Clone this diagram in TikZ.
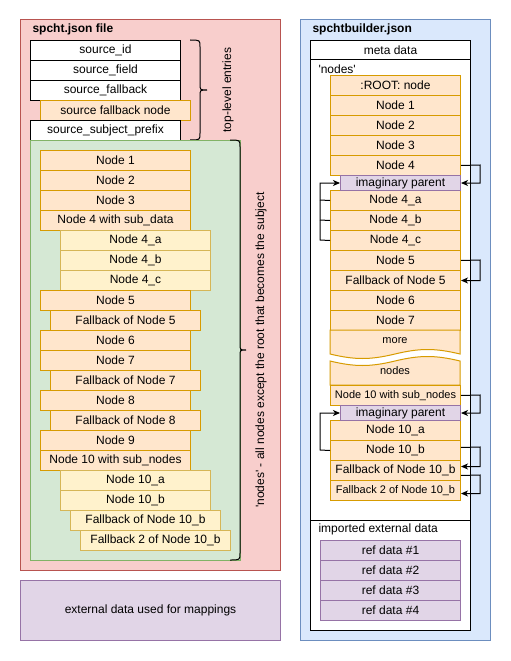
\documentclass[tikz,border=0pt]{standalone}
\usepackage{fontspec}
\setmainfont{Liberation Sans}
\usetikzlibrary{arrows.meta}
\definecolor{redF}{HTML}{F8CECC}\definecolor{redS}{HTML}{B85450}
\definecolor{grnF}{HTML}{D5E8D4}\definecolor{grnS}{HTML}{82B366}
\definecolor{bluF}{HTML}{DAE8FC}\definecolor{bluS}{HTML}{6C8EBF}
\definecolor{orF}{HTML}{FFE6CC}\definecolor{orS}{HTML}{D79B00}
\definecolor{yeF}{HTML}{FFF2CC}\definecolor{yeS}{HTML}{D6B656}
\definecolor{puF}{HTML}{E1D5E7}\definecolor{puS}{HTML}{9673A6}
\newcommand\twelvepx{\fontsize{12}{14}\selectfont}
\newcommand\elevenpx{\fontsize{11}{13}\selectfont}
\tikzset{
  basebox/.style={anchor=north west, minimum height=20pt, inner sep=0pt, font=\twelvepx, text=black},
  wbox/.style={basebox, draw=black, fill=white, minimum width=#1},
  wbox/.default=150pt,
  obox/.style={basebox, draw=orS, fill=orF, minimum width=#1},
  obox/.default=150pt,
  ybox/.style={basebox, draw=yeS, fill=yeF, minimum width=#1},
  ybox/.default=150pt,
  pbox/.style={basebox, draw=puS, fill=puF, minimum width=#1},
  pbox/.default=150pt,
  lbl/.style={inner sep=0pt, font=\twelvepx, text=black},
  ttl/.style={inner sep=0pt, anchor=west, font=\twelvepx\bfseries, text=black},
  conn/.style={draw=black, line width=1pt, -{Stealth[length=7pt,width=6pt,inset=2pt]}},
  plain/.style={draw=black, line width=1pt},
}
\begin{document}
\begin{tikzpicture}[x=1pt,y=-1pt,line width=1pt]
\useasboundingbox[fill=white] (0,0) rectangle (511,661);

% ---------- left container ----------
\draw[draw=redS, fill=redF] (20,20) rectangle (280,570);
\node[ttl] (t1) at (32,29) {spcht.json file};

\node[wbox] (sid) at (30,40) {source\_id};
\node[wbox] (sfield) at (30,60) {source\_field};
\node[wbox] (sfb) at (30,80) {source\_fallback};
\node[obox] (sfbn) at (40,100) {source fallback node};
\node[wbox] (ssp) at (30,120) {source\_subject\_prefix};

\draw[plain] (190,40) .. controls (200,40) .. (200,47) -- (200,84)
  .. controls (200,90) .. (207,90) .. controls (200,90) .. (200,96)
  -- (200,133) .. controls (200,140) .. (190,140);
\node[lbl, rotate=90] (tle) at (228,90) {top-level entries};

\draw[draw=grnS, fill=grnF] (30,140) rectangle (240,560);

\node[obox] (l1) at (40,150) {Node 1};
\node[obox] (l2) at (40,170) {Node 2};
\node[obox] (l3) at (40,190) {Node 3};
\node[obox] (l4) at (40,210) {Node 4 with sub\_data};
\node[ybox] (l4a) at (60,230) {Node 4\_a};
\node[ybox] (l4b) at (60,250) {Node 4\_b};
\node[ybox] (l4c) at (60,270) {Node 4\_c};
\node[obox] (l5) at (40,290) {Node 5};
\node[obox] (l5f) at (50,310) {Fallback of Node 5};
\node[obox] (l6) at (40,330) {Node 6};
\node[obox] (l7) at (40,350) {Node 7};
\node[obox] (l7f) at (50,370) {Fallback of Node 7};
\node[obox] (l8) at (40,390) {Node 8};
\node[obox] (l8f) at (50,410) {Fallback of Node 8};
\node[obox] (l9) at (40,430) {Node 9};
\node[obox] (l10) at (40,450) {Node 10 with sub\_nodes};
\node[ybox] (l10a) at (60,470) {Node 10\_a};
\node[ybox] (l10b) at (60,490) {Node 10\_b};
\node[ybox] (l10bf) at (70,510) {Fallback of Node 10\_b};
\node[ybox] (l10bff) at (80,530) {Fallback 2 of Node 10\_b};

\draw[plain] (230,140) .. controls (240,140) .. (240,147) -- (240,344)
  .. controls (240,350) .. (246,350) .. controls (240,350) .. (240,356)
  -- (240,553) .. controls (240,560) .. (230,560);
\node[lbl, rotate=90] (nlbl) at (261,350) {\textquotesingle nodes\textquotesingle\ - all nodes except the root that becomes the subject};

% ---------- external data ----------
\node[pbox=260pt, minimum height=60pt] (ext) at (20,580) {external data used for mappings};

% ---------- right container ----------
\draw[draw=bluS, fill=bluF] (300,20) rectangle (490,640);
\node[ttl] (t2) at (312,29) {spchtbuilder.json};

\node[wbox=160pt] (meta) at (310,40) {meta data};
\draw[draw=black, fill=white] (310,60) rectangle (470,520);
\node[lbl, anchor=west] (nodeslbl) at (318,69) {\textquotesingle nodes\textquotesingle};
\draw[draw=black, fill=white] (310,520) rectangle (470,630);
\node[lbl, anchor=west] (implbl) at (318,529) {imported external data};

\node[pbox=140pt] (r1) at (320,540) {ref data \#1};
\node[pbox=140pt] (r2) at (320,560) {ref data \#2};
\node[pbox=140pt] (r3) at (320,580) {ref data \#3};
\node[pbox=140pt] (r4) at (320,600) {ref data \#4};

\node[obox=130pt] (root) at (330,75) {:ROOT: node};
\node[obox=130pt] (b1) at (330,95) {Node 1};
\node[obox=130pt] (b2) at (330,115) {Node 2};
\node[obox=130pt] (b3) at (330,135) {Node 3};
\node[obox=130pt] (b4) at (330,155) {Node 4};
\node[obox=130pt] (b4a) at (330,190) {Node 4\_a};
\node[obox=130pt] (b4b) at (330,210) {Node 4\_b};
\node[obox=130pt] (b4c) at (330,230) {Node 4\_c};
\node[pbox=120pt, minimum height=15pt] (ip1) at (340,175) {imaginary parent};
\node[obox=130pt] (b5) at (330,250) {Node 5};
\node[obox=130pt] (b5f) at (330,270) {Fallback of Node 5};
\node[obox=130pt] (b6) at (330,290) {Node 6};
\node[obox=130pt] (b7) at (330,310) {Node 7};

% document-like shapes
\draw[draw=orS, fill=orF] (330,330) -- (460,330) -- (460,354)
  .. controls (435,348) and (420,348) .. (395,354)
  .. controls (370,360) and (355,360) .. (330,354) -- cycle;
\node[lbl, font=\elevenpx] (more) at (395,341) {more};
\draw[draw=orS, fill=orF] (330,385) -- (330,361)
  .. controls (355,367) and (370,367) .. (395,361)
  .. controls (420,355) and (435,355) .. (460,361) -- (460,385) -- cycle;
\node[lbl, font=\elevenpx] (nodesdoc) at (395,371) {nodes};

\node[obox=130pt, font=\elevenpx] (b10) at (330,385) {Node 10 with sub\_nodes};
\node[obox=130pt] (b10a) at (330,420) {Node 10\_a};
\node[obox=130pt] (b10b) at (330,440) {Node 10\_b};
\node[obox=130pt] (b10bf) at (330,460) {Fallback of Node 10\_b};
\node[obox=130pt, font=\elevenpx] (b10bff) at (330,480) {Fallback 2 of Node 10\_b};
\node[pbox=120pt, minimum height=15pt] (ip2) at (340,405) {imaginary parent};

% connectors
\draw[conn] (b4.east) -- (480,165) |- (ip1.east);
\draw[conn] (b5.east) -- (480,260) |- (b5f.east);
\draw[conn] (b10.east) -- (480,395) |- (ip2.east);
\draw[conn] ([yshift=3pt]b10b.east) -- (480,447) |- ([yshift=4pt]b10bf.east);
\draw[conn] ([yshift=-5pt]b10bf.east) -- (480,475) |- ([yshift=-3pt]b10bff.east);

\draw[conn] (b4c.west) -- (320,240) |- (ip1.west);
\draw[plain] (b4a.west) -- (320,200);
\draw[plain] (b4b.west) -- (320,220);
\draw[conn] (b10b.west) -- (320,450) |- (ip2.west);
\end{tikzpicture}
\end{document}
